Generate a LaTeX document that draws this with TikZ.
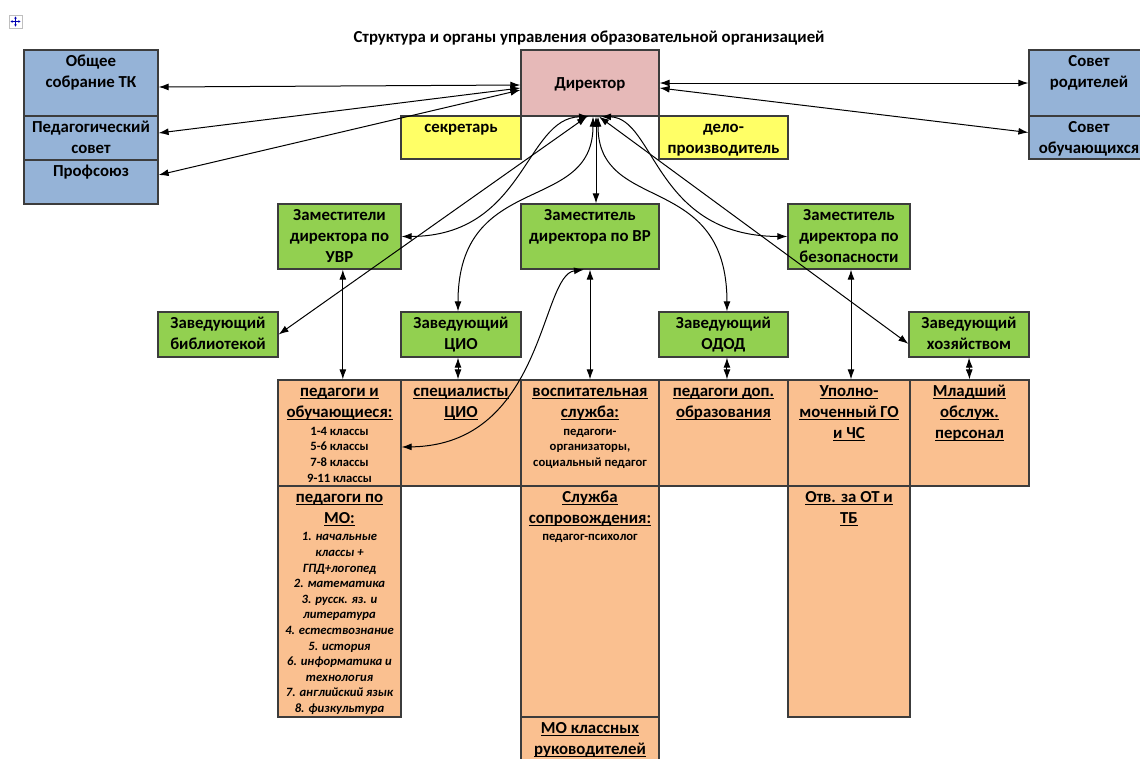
\documentclass[tikz,border=0pt]{standalone}
\usepackage{fontspec}
\setmainfont{Carlito}
\usetikzlibrary{arrows.meta}

\definecolor{boardblue}{HTML}{95B3D7}
\definecolor{headpink}{HTML}{E6B9B8}
\definecolor{staffyellow}{HTML}{FFFF66}
\definecolor{deputygreen}{HTML}{92D050}
\definecolor{unitorange}{HTML}{FAC090}
\definecolor{edgegray}{HTML}{3C3C3C}

\newsavebox{\ulbox}
\newcommand{\topstrut}{\rule{0pt}{12.5pt}}
\newcommand{\smallstrut}{\rule{0pt}{9pt}}
\newcommand{\ulined}[1]{\sbox{\ulbox}{#1}\rlap{\rule[-2.2pt]{\wd\ulbox}{0.85pt}}\usebox{\ulbox}}

\tikzset{
    cell/.style={draw=edgegray, line width=0.9pt, inner sep=0pt},
    dims/.style 2 args={minimum width=#1*0.75pt, minimum height=#2*0.75pt},
    head/.style={anchor=north, inner sep=0pt, align=center, font=\bfseries\fontsize{12.6}{15.75}\selectfont},
    small/.style={anchor=north, inner sep=0pt, align=center, font=\bfseries\fontsize{9.5}{11.7}\selectfont},
    link/.style={<->, line width=0.75pt}
}

\begin{document}
\begin{tikzpicture}[x=0.75pt, y=-0.75pt, >={Latex[length=7.5pt,width=5.2pt]}]
\useasboundingbox (0,0) rectangle (1140,758);
% table handle
\draw[gray!50, fill=white] (9,15) rectangle (22,28);
\draw[blue!70!black, line width=0.5pt, -{Stealth[length=1.6pt,width=2pt]}] (15.5,21.5) -- (15.5,16.5);
\draw[blue!70!black, line width=0.5pt, -{Stealth[length=1.6pt,width=2pt]}] (15.5,21.5) -- (15.5,26.5);
\draw[blue!70!black, line width=0.5pt, -{Stealth[length=1.6pt,width=2pt]}] (15.5,21.5) -- (10.5,21.5);
\draw[blue!70!black, line width=0.5pt, -{Stealth[length=1.6pt,width=2pt]}] (15.5,21.5) -- (20.5,21.5);
% title
\node[anchor=base, font=\bfseries\fontsize{12.6}{15}\selectfont] (title) at (589,42)
    {Структура и органы управления образовательной организацией};
% top row
\node[cell, fill=boardblue, dims={134}{66}] (gen)  at (91,83)  {};
\node[cell, fill=boardblue, dims={134}{44}] (ped)  at (91,138) {};
\node[cell, fill=boardblue, dims={134}{44}] (prof) at (91,182) {};
\node[cell, fill=headpink, dims={138}{66}] (dir) at (590,83) {};
\node[cell, fill=staffyellow, dims={120}{43}] (sec)   at (461,137.5)   {};
\node[cell, fill=staffyellow, dims={129}{43}] (clerk) at (723.5,137.5) {};
\node[cell, fill=boardblue, dims={120}{66}] (par)  at (1089,83)    {};
\node[cell, fill=boardblue, dims={120}{43}] (stud) at (1089,137.5) {};
% deputies
\node[cell, fill=deputygreen, dims={123}{65}] (uvr) at (339.5,236.5) {};
\node[cell, fill=deputygreen, dims={138}{65}] (vr)  at (590,236.5)   {};
\node[cell, fill=deputygreen, dims={122}{65}] (bez) at (849,236.5)   {};
% heads of units
\node[cell, fill=deputygreen, dims={120}{45}] (lib)  at (218,334.5)   {};
\node[cell, fill=deputygreen, dims={120}{45}] (cio)  at (461,334.5)   {};
\node[cell, fill=deputygreen, dims={129}{45}] (odod) at (723.5,334.5) {};
\node[cell, fill=deputygreen, dims={120}{45}] (hoz)  at (969,334.5)   {};
% staff table
\node[cell, fill=unitorange, dims={123}{106}] (pupils) at (339.5,433) {};
\node[cell, fill=unitorange, dims={120}{106}] (spec)   at (461,433)   {};
\node[cell, fill=unitorange, dims={138}{106}] (vosp)   at (590,433)   {};
\node[cell, fill=unitorange, dims={129}{106}] (dop)    at (723.5,433) {};
\node[cell, fill=unitorange, dims={122}{106}] (upol)   at (849,433)   {};
\node[cell, fill=unitorange, dims={119}{106}] (mlad)   at (969.5,433) {};
\node[cell, fill=unitorange, dims={123}{231}] (mo)     at (339.5,601.5) {};
\node[cell, fill=unitorange, dims={138}{231}] (sopr)   at (590,601.5)   {};
\node[cell, fill=unitorange, dims={122}{231}] (ot)     at (849,601.5)   {};
\node[cell, fill=unitorange, dims={138}{83}]  (klass)  at (590,758.5)   {};
% texts
\node[head] (gen-t)   at (gen.north)   {\topstrut Общее\\собрание ТК};
\node[head] (ped-t)   at (ped.north)   {\topstrut Педагогический\\совет};
\node[head] (prof-t)  at (prof.north)  {\topstrut Профсоюз};
\node[head, anchor=base] (dir-t) at (590,88) {Директор};
\node[head] (sec-t)   at (sec.north)   {\topstrut секретарь};
\node[head] (clerk-t) at (clerk.north) {\topstrut дело-\\производитель};
\node[head] (par-t)   at (par.north)   {\topstrut Совет\\родителей};
\node[head] (stud-t)  at (stud.north)  {\topstrut Совет\\обучающихся};
\node[head] (uvr-t)   at (uvr.north)   {\topstrut Заместители\\директора по\\УВР};
\node[head] (vr-t)    at (vr.north)    {\topstrut Заместитель\\директора по ВР};
\node[head] (bez-t)   at (bez.north)   {\topstrut Заместитель\\директора по\\безопасности};
\node[head] (lib-t)   at (lib.north)   {\topstrut Заведующий\\библиотекой};
\node[head] (cio-t)   at (cio.north)   {\topstrut Заведующий\\ЦИО};
\node[head] (odod-t)  at (odod.north)  {\topstrut Заведующий\\ОДОД};
\node[head] (hoz-t)   at (hoz.north)   {\topstrut Заведующий\\хозяйством};
\node[head] (pupils-t) at (pupils.north) {\topstrut\ulined{педагоги и}\\\ulined{обучающиеся:}};
\node[head] (spec-t)  at (spec.north)  {\topstrut\ulined{специалисты}\\\ulined{ЦИО}};
\node[head] (vosp-t)  at (vosp.north)  {\topstrut\ulined{воспитательная}\\\ulined{служба:}};
\node[head] (dop-t)   at (dop.north)   {\topstrut\ulined{педагоги доп.}\\\ulined{образования}};
\node[head] (upol-t)  at (upol.north)  {\topstrut\ulined{Уполно-}\\\ulined{моченный ГО}\\\ulined{и ЧС}};
\node[head] (mlad-t)  at (mlad.north)  {\topstrut\ulined{Младший}\\\ulined{обслуж.}\\\ulined{персонал}};
\node[head] (mo-t)    at (mo.north)    {\topstrut\ulined{педагоги по}\\\ulined{МО:}};
\node[head] (sopr-t)  at (sopr.north)  {\topstrut\ulined{Служба}\\\ulined{сопровождения:}};
\node[head] (ot-t)    at (ot.north)    {\topstrut\ulined{Отв. за ОТ и}\\\ulined{ТБ}};
\node[head] (klass-t) at (klass.north) {\topstrut\ulined{МО классных}\\\ulined{руководителей}};
\node[small] (pupils-d) at (339.5,423) {\smallstrut 1-4 классы\\5-6 классы\\7-8 классы\\9-11 классы};
\node[small] (vosp-d) at (590,423) {\smallstrut педагоги-\\организаторы,\\социальный педагог};
\node[small] (sopr-d) at (590,528) {\smallstrut педагог-психолог};
\node[small, font=\bfseries\itshape\fontsize{9.5}{11.7}\selectfont] (mo-d) at (339.5,528.7)
    {\smallstrut 1. начальные\\классы +\\ГПД+логопед\\2. математика\\3. русск. яз. и\\литература\\
     4. естествознание\\5. история\\6. информатика и\\технология\\7. английский язык\\8. физкультура};
% arrows
\draw[link] ([yshift=-3pt]gen.east)     -- ([yshift=-1.5pt]dir.west);
\draw[link] ([yshift=3.75pt]ped.east)   -- ([yshift=-3.75pt]dir.west);
\draw[link] ([yshift=5.25pt]prof.east)  -- ([yshift=-5.25pt]dir.west);
\draw[link] (dir.east)                  -- (par.west);
\draw[link] ([yshift=-3.75pt]dir.east)  -- ([yshift=3.75pt]stud.west);
\draw[link] (lib.east)                  -- ([xshift=-2.25pt]dir.south);
\draw[link] (uvr.east) .. controls (525,236) and (525,118) .. ([xshift=-0.75pt]dir.south);
\draw[link] ([xshift=-2.25pt]cio.north) .. controls (458,170) and (593,215) .. ([xshift=2.25pt]dir.south);
\draw[link] ([xshift=4.5pt]dir.south)   -- ([xshift=4.5pt]vr.north);
\draw[link] ([xshift=2.6pt]odod.north) .. controls (727,170) and (598,215) .. ([xshift=6pt]dir.south);
\draw[link] (bez.west) .. controls (655,236) and (655,118) .. ([xshift=8.25pt]dir.south);
\draw[link] ([yshift=-7pt]hoz.west)     -- ([xshift=6.75pt]dir.south);
\draw[link] ([xshift=2.5pt]uvr.south)   -- ([xshift=2.5pt]pupils.north);
\draw[link] ([xshift=-2.25pt]cio.south) -- ([xshift=-2.25pt]spec.north);
\draw[link] (vr.south)                  -- (vosp.north);
\draw[link] ([yshift=-10.5pt]pupils.east) .. controls (545,445) and (540,275) .. ([xshift=-4.5pt]vr.south);
\draw[link] ([xshift=2.6pt]odod.south)  -- ([xshift=2.6pt]dop.north);
\draw[link] ([xshift=1.5pt]bez.south)   -- ([xshift=1.5pt]upol.north);
\draw[link] (hoz.south)                 -- (mlad.north);
\end{tikzpicture}
\end{document}
